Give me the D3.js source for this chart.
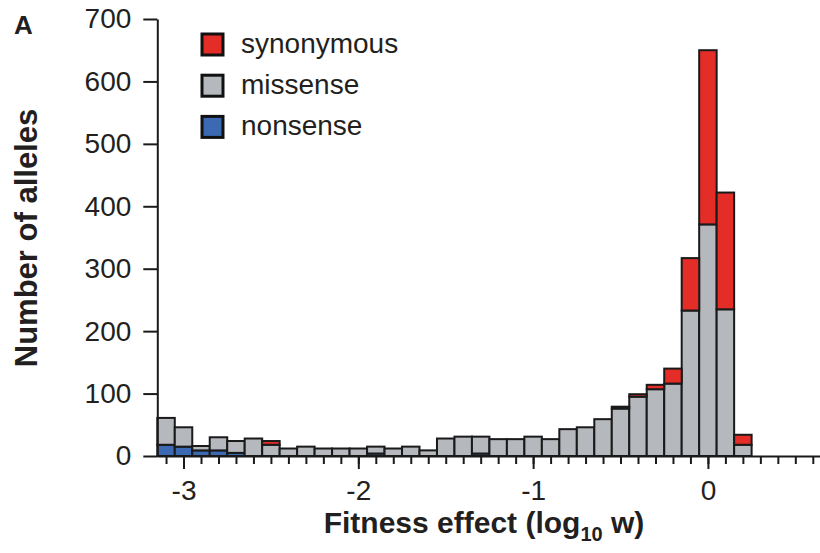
<!DOCTYPE html>
<html>
<head>
<meta charset="utf-8">
<script src="https://cdn.jsdelivr.net/npm/d3@7"></script>
<style>
  body { margin: 0; background: #fff; }
  svg text { font-family: "Liberation Sans", Arial, Helvetica, sans-serif; fill: #231f20; }
</style>
</head>
<body>
<div id="chart"></div>
<script>
// bin centres, log10 w, bins are 0.1 wide
var binCenters = d3.range(-31, 3).map(function (i) { return i / 10; });

var nonsense = [18, 15, 9, 9, 5, 0, 0, 0, 0, 0, 0, 0, 4, 0, 0, 0, 0,
                0, 4, 0, 0, 0, 0, 0, 0, 0, 0, 0, 0, 0, 0, 0, 0, 0];
var missense = [43, 31, 7, 21, 19, 28, 18, 12, 15, 12, 12, 12, 11, 12, 15, 9, 28,
                31, 27, 27, 27, 31, 27, 43, 46, 59, 76, 95, 107, 116, 233, 371, 235, 18];
var synonymous = [0, 0, 0, 0, 0, 0, 6, 0, 0, 0, 0, 0, 0, 0, 0, 0, 0,
                  0, 0, 0, 0, 0, 0, 0, 0, 0, 3, 4, 7, 24, 84, 279, 187, 16];

var seriesNames = ['nonsense', 'missense', 'synonymous'];
var legendNames = ['synonymous', 'missense', 'nonsense'];
var yTicks = [0, 100, 200, 300, 400, 500, 600, 700];
var xMajor = [-3, -2, -1, 0];

var colors = { synonymous: '#e42d27', missense: '#b5b8bc', nonsense: '#3b69b2' };

var width = 820, height = 553;
var x0 = 157.3, yBase = 456, yTop = 19;

var x = d3.scaleLinear().domain([-3.15, 0.65]).range([x0, x0 + 3.8 * 174.8]);
var y = d3.scaleLinear().domain([0, 700]).range([yBase, yTop]);

var rows = binCenters.map(function (c, i) {
  return { c: c, nonsense: nonsense[i], missense: missense[i], synonymous: synonymous[i] };
});
var stacked = d3.stack().keys(seriesNames)(rows);

var svg = d3.select('#chart').append('svg')
  .attr('width', width)
  .attr('height', height);

// bars
svg.append('g').selectAll('g')
  .data(stacked)
  .enter().append('g')
  .attr('fill', function (s) { return colors[s.key]; })
  .selectAll('rect')
  .data(function (s) { return s.filter(function (d) { return d[1] - d[0] > 0; }); })
  .enter().append('rect')
  .attr('x', function (d) { return x(d.data.c - 0.05); })
  .attr('width', function (d) { return x(d.data.c + 0.05) - x(d.data.c - 0.05); })
  .attr('y', function (d) { return y(d[1]); })
  .attr('height', function (d) { return y(d[0]) - y(d[1]); })
  .attr('stroke', '#1a1a1a')
  .attr('stroke-width', 2);

// x axis: minor ticks every 0.1, major ticks with labels
var minor = d3.range(-31, 7).map(function (i) { return i / 10; });
svg.append('g')
  .attr('transform', 'translate(0,' + yBase + ')')
  .call(d3.axisBottom(x).tickValues(minor).tickSize(8).tickSizeOuter(0).tickFormat(''))
  .call(function (g) { g.selectAll('line, path').attr('stroke', '#1a1a1a').attr('stroke-width', 2); });

svg.append('g')
  .attr('transform', 'translate(0,' + yBase + ')')
  .call(d3.axisBottom(x).tickValues(xMajor).tickSize(13).tickSizeOuter(0).tickPadding(11)
    .tickFormat(function (d) { return d; }))
  .call(function (g) {
    g.select('.domain').remove();
    g.selectAll('line').attr('stroke', '#1a1a1a').attr('stroke-width', 2);
    g.selectAll('text').attr('font-size', 28).attr('fill', '#231f20')
      .style('font-family', '"Liberation Sans", Arial, sans-serif');
  });

// y axis
svg.append('g')
  .attr('transform', 'translate(' + x0 + ',0)')
  .call(d3.axisLeft(y).tickValues(yTicks).tickSize(14).tickSizeOuter(0).tickPadding(12))
  .call(function (g) {
    g.selectAll('line, path').attr('stroke', '#1a1a1a').attr('stroke-width', 2);
    g.selectAll('text').attr('font-size', 28).attr('fill', '#231f20')
      .style('font-family', '"Liberation Sans", Arial, sans-serif');
  });

// axis titles
svg.append('text')
  .attr('transform', 'translate(37,238) rotate(-90)')
  .attr('text-anchor', 'middle')
  .attr('font-size', 31)
  .attr('font-weight', 'bold')
  .text('Number of alleles');

var xt = svg.append('text')
  .attr('x', 484)
  .attr('y', 533)
  .attr('text-anchor', 'middle')
  .attr('font-size', 30)
  .attr('font-weight', 'bold');
xt.append('tspan').text('Fitness effect (log');
xt.append('tspan').attr('font-size', 20).attr('dy', 8).text('10');
xt.append('tspan').attr('dy', -8).text(' w)');

// panel letter
svg.append('text')
  .attr('x', 14)
  .attr('y', 34)
  .attr('font-size', 26)
  .attr('font-weight', 'bold')
  .text('A');

// legend
var legend = svg.append('g').selectAll('g')
  .data(legendNames)
  .enter().append('g')
  .attr('transform', function (d, i) { return 'translate(202,' + (34 + i * 41.2) + ')'; });

legend.append('rect')
  .attr('width', 21)
  .attr('height', 21)
  .attr('fill', function (d) { return colors[d]; })
  .attr('stroke', '#111')
  .attr('stroke-width', 3);

legend.append('text')
  .attr('x', 39)
  .attr('y', 19)
  .attr('font-size', 28)
  .text(function (d) { return d; });
</script>
</body>
</html>
